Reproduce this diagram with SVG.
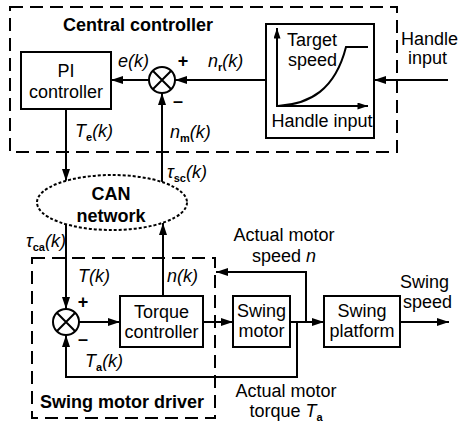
<svg xmlns="http://www.w3.org/2000/svg" width="458" height="427" viewBox="0 0 458 427">
<style>
text{font-family:"Liberation Sans",Arial,sans-serif;font-size:18px;fill:#000}
.b{font-weight:bold}
.c{text-anchor:middle}
.i{font-style:italic}
.sub{font-size:11px;font-weight:bold;font-style:normal}
.box{fill:#fff;stroke:#000;stroke-width:2}
.dash{fill:none;stroke:#000;stroke-width:2;stroke-dasharray:13 7}
.ln{fill:none;stroke:#000;stroke-width:2}
.arr{fill:none;stroke:#000;stroke-width:2;marker-end:url(#ah)}
.arrs{fill:none;stroke:#000;stroke-width:2;marker-end:url(#ahs)}
</style>
<defs>
<marker id="ah" viewBox="0 0 12 8" refX="12" refY="4" markerWidth="12" markerHeight="8" orient="auto" markerUnits="userSpaceOnUse"><path d="M0,0 L12,4 L0,8 z" fill="#000"/></marker>
<marker id="ahs" viewBox="0 0 12 8" refX="12" refY="4" markerWidth="11" markerHeight="7" orient="auto" markerUnits="userSpaceOnUse"><path d="M0,0 L12,4 L0,8 z" fill="#000"/></marker>
</defs>
<g id="central-controller">
<rect class="dash" x="10" y="7" width="387" height="145"/>
<text class="b" x="63" y="31">Central controller</text>
</g>
<g id="swing-motor-driver">
<rect class="dash" x="32" y="258" width="183" height="160"/>
<text class="b" x="40" y="408">Swing motor driver</text>
</g>
<g id="connectors">
<line class="arr" x1="149" y1="80" x2="111" y2="80"/>
<line class="arr" x1="266" y1="80" x2="175" y2="80"/>
<line class="arr" x1="448" y1="80" x2="374" y2="80"/>
<line class="arr" x1="162" y1="182" x2="162" y2="93"/>
<line class="arr" x1="66" y1="109" x2="66" y2="181"/>
<line class="arr" x1="66" y1="224" x2="66" y2="309"/>
<line class="arr" x1="79" y1="322" x2="120" y2="322"/>
<line class="arr" x1="163" y1="296" x2="163" y2="223"/>
<line class="arr" x1="203" y1="322" x2="233" y2="322"/>
<line class="arr" x1="290" y1="322" x2="324" y2="322"/>
<path class="arr" d="M306,322 V272 H216"/>
<path class="arr" d="M297,322 V377 H66 V335"/>
<line class="arr" x1="400" y1="322" x2="449" y2="322"/>
</g>
<g id="pi-controller">
<rect class="box" x="21" y="52" width="90" height="57"/>
<text class="c" x="66" y="77">PI</text>
<text class="c" x="66" y="98">controller</text>
</g>
<g id="sum-top">
<circle class="ln" cx="162" cy="80" r="13"/>
<path class="ln" d="M152.8,70.8 L171.2,89.2 M171.2,70.8 L152.8,89.2"/>
<text class="b" x="183" y="67" font-size="16" text-anchor="middle">+</text>
<text class="b" x="178" y="107" font-size="16" text-anchor="middle">–</text>
</g>
<g id="target-speed">
<rect class="box" x="266" y="24" width="108" height="114"/>
<line class="arrs" x1="277" y1="107" x2="277" y2="28"/>
<line class="arrs" x1="276" y1="106" x2="368" y2="106"/>
<path class="ln" d="M278,106 C310,104 335,90 346,47 L368,47"/>
<text x="287" y="46">Target</text>
<text x="288" y="66">speed</text>
<text class="c" x="322" y="127">Handle input</text>
</g>
<g id="handle-input">
<text x="401" y="45">Handle</text>
<text x="408" y="64">input</text>
</g>
<g id="can-network">
<ellipse cx="112" cy="202.5" rx="75" ry="27.5" fill="#fff" stroke="#000" stroke-width="2" stroke-dasharray="3 2"/>
<text class="b c" x="111" y="200">CAN</text>
<text class="b c" x="111" y="222">network</text>
</g>
<g id="sum-bottom">
<circle class="ln" cx="66" cy="322" r="13"/>
<path class="ln" d="M56.8,312.8 L75.2,331.2 M75.2,312.8 L56.8,331.2"/>
<text class="b" x="83" y="308" font-size="16" text-anchor="middle">+</text>
<text class="b" x="83" y="345" font-size="16" text-anchor="middle">–</text>
</g>
<g id="torque-controller">
<rect class="box" x="120" y="296" width="83" height="51"/>
<text class="c" x="161.5" y="318">Torque</text>
<text class="c" x="161.5" y="338">controller</text>
</g>
<g id="swing-motor">
<rect class="box" x="233" y="296" width="57" height="51"/>
<text class="c" x="261.5" y="317">Swing</text>
<text class="c" x="261.5" y="337">motor</text>
</g>
<g id="swing-platform">
<rect class="box" x="324" y="296" width="76" height="51"/>
<text class="c" x="362" y="317">Swing</text>
<text class="c" x="362" y="337">platform</text>
</g>
<g id="labels">
<text class="i" x="118" y="67">e(k)</text>
<text class="i" x="208" y="67">n<tspan class="sub" dy="4">r</tspan><tspan dy="-4">(k)</tspan></text>
<text class="i" x="75" y="137">T<tspan class="sub" dy="4">e</tspan><tspan dy="-4">(k)</tspan></text>
<text class="i" x="170" y="138">n<tspan class="sub" dy="4">m</tspan><tspan dy="-4">(k)</tspan></text>
<text class="i" x="167" y="178">τ<tspan class="sub" dy="4">sc</tspan><tspan dy="-4">(k)</tspan></text>
<text class="i" x="26" y="247">τ<tspan class="sub" dy="4">ca</tspan><tspan dy="-4">(k)</tspan></text>
<text class="i" x="78" y="282">T(k)</text>
<text class="i" x="167" y="282">n(k)</text>
<text class="i" x="85" y="367">T<tspan class="sub" dy="4">a</tspan><tspan dy="-4">(k)</tspan></text>
<text class="c" x="284" y="241">Actual motor</text>
<text class="c" x="284" y="262">speed <tspan class="i">n</tspan></text>
<text class="c" x="286" y="397">Actual motor</text>
<text class="c" x="286" y="417">torque <tspan class="i">T</tspan><tspan class="sub" dy="4">a</tspan></text>
<text x="400" y="288">Swing</text>
<text x="403" y="308">speed</text>
</g>
</svg>
